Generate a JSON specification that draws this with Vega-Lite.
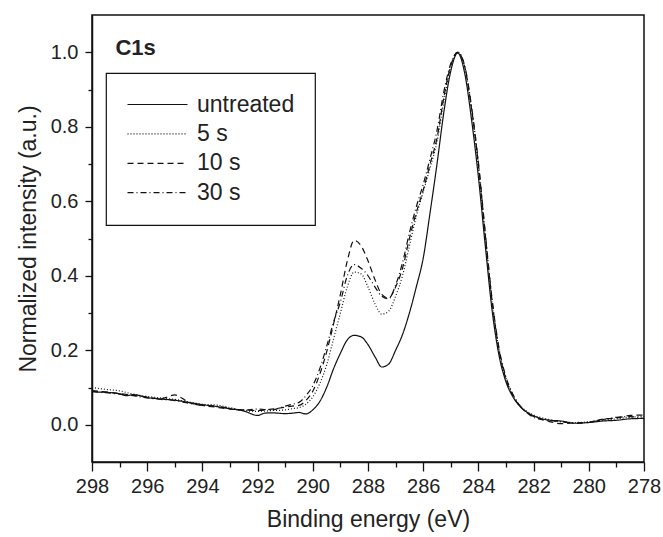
{
  "$schema": "https://vega.github.io/schema/vega-lite/v6.json",
  "width": 552,
  "height": 447,
  "autosize": {"type": "none"},
  "padding": {"left": 92, "top": 15, "right": 19, "bottom": 75},
  "config": {
    "font": "Liberation Sans",
    "view": {"stroke": "#111", "strokeWidth": 1.5},
    "axis": {"grid": false, "domainColor": "#111", "domainWidth": 1.5, "tickColor": "#111", "tickWidth": 1.3, "labelColor": "#222", "titleColor": "#222", "labelFontSize": 20, "titleFontSize": 23, "titleFontWeight": "normal", "labelFont": "Liberation Sans", "titleFont": "Liberation Sans"},
    "legend": {"labelFont": "Liberation Sans", "strokeWidth": 1.2}
  },
  "resolve": {"axis": {"x": "independent", "y": "independent"}},
  "datasets": {
    "spectra": [
      {"s":"untreated","e":298,"v":0.088},{"s":"untreated","e":297.5,"v":0.087},{"s":"untreated","e":297,"v":0.083},{"s":"untreated","e":296.75,"v":0.078},{"s":"untreated","e":296.5,"v":0.081},{"s":"untreated","e":296,"v":0.073},{"s":"untreated","e":295.5,"v":0.069},{"s":"untreated","e":295,"v":0.066},{"s":"untreated","e":294.5,"v":0.060},{"s":"untreated","e":294,"v":0.054},{"s":"untreated","e":293.5,"v":0.049},{"s":"untreated","e":293,"v":0.043},{"s":"untreated","e":292.5,"v":0.037},{"s":"untreated","e":292,"v":0.025},{"s":"untreated","e":291.75,"v":0.031},{"s":"untreated","e":291.5,"v":0.032},{"s":"untreated","e":291,"v":0.030},{"s":"untreated","e":290.75,"v":0.031},{"s":"untreated","e":290.5,"v":0.033},{"s":"untreated","e":290.25,"v":0.029},{"s":"untreated","e":290,"v":0.040},{"s":"untreated","e":289.75,"v":0.062},{"s":"untreated","e":289.5,"v":0.100},{"s":"untreated","e":289.25,"v":0.150},{"s":"untreated","e":289,"v":0.192},{"s":"untreated","e":288.75,"v":0.228},{"s":"untreated","e":288.5,"v":0.240},{"s":"untreated","e":288.25,"v":0.236},{"s":"untreated","e":288,"v":0.215},{"s":"untreated","e":287.75,"v":0.183},{"s":"untreated","e":287.5,"v":0.155},{"s":"untreated","e":287.25,"v":0.163},{"s":"untreated","e":287,"v":0.200},{"s":"untreated","e":286.75,"v":0.242},{"s":"untreated","e":286.5,"v":0.300},{"s":"untreated","e":286.25,"v":0.370},{"s":"untreated","e":286,"v":0.447},{"s":"untreated","e":285.75,"v":0.570},{"s":"untreated","e":285.5,"v":0.700},{"s":"untreated","e":285.25,"v":0.840},{"s":"untreated","e":285,"v":0.950},{"s":"untreated","e":284.75,"v":0.998},{"s":"untreated","e":284.5,"v":0.945},{"s":"untreated","e":284.25,"v":0.820},{"s":"untreated","e":284,"v":0.665},{"s":"untreated","e":283.75,"v":0.480},{"s":"untreated","e":283.5,"v":0.305},{"s":"untreated","e":283.25,"v":0.185},{"s":"untreated","e":283,"v":0.115},{"s":"untreated","e":282.75,"v":0.075},{"s":"untreated","e":282.5,"v":0.050},{"s":"untreated","e":282.25,"v":0.034},{"s":"untreated","e":282,"v":0.024},{"s":"untreated","e":281.5,"v":0.013},{"s":"untreated","e":281,"v":0.010},{"s":"untreated","e":280.5,"v":0.004},{"s":"untreated","e":280,"v":0.006},{"s":"untreated","e":279.5,"v":0.010},{"s":"untreated","e":279,"v":0.012},{"s":"untreated","e":278.5,"v":0.016},{"s":"untreated","e":278,"v":0.017},

      {"s":"5 s","e":298,"v":0.100},{"s":"5 s","e":297.5,"v":0.095},{"s":"5 s","e":297,"v":0.091},{"s":"5 s","e":296.5,"v":0.082},{"s":"5 s","e":296,"v":0.076},{"s":"5 s","e":295.5,"v":0.072},{"s":"5 s","e":295,"v":0.068},{"s":"5 s","e":294.5,"v":0.061},{"s":"5 s","e":294,"v":0.055},{"s":"5 s","e":293.5,"v":0.053},{"s":"5 s","e":293,"v":0.046},{"s":"5 s","e":292.5,"v":0.038},{"s":"5 s","e":292,"v":0.036},{"s":"5 s","e":291.5,"v":0.038},{"s":"5 s","e":291,"v":0.040},{"s":"5 s","e":290.75,"v":0.043},{"s":"5 s","e":290.5,"v":0.046},{"s":"5 s","e":290.25,"v":0.055},{"s":"5 s","e":290,"v":0.075},{"s":"5 s","e":289.75,"v":0.110},{"s":"5 s","e":289.5,"v":0.160},{"s":"5 s","e":289.25,"v":0.230},{"s":"5 s","e":289,"v":0.300},{"s":"5 s","e":288.75,"v":0.370},{"s":"5 s","e":288.5,"v":0.410},{"s":"5 s","e":288.25,"v":0.405},{"s":"5 s","e":288,"v":0.370},{"s":"5 s","e":287.75,"v":0.325},{"s":"5 s","e":287.5,"v":0.297},{"s":"5 s","e":287.25,"v":0.305},{"s":"5 s","e":287,"v":0.345},{"s":"5 s","e":286.75,"v":0.400},{"s":"5 s","e":286.5,"v":0.480},{"s":"5 s","e":286.25,"v":0.560},{"s":"5 s","e":286,"v":0.625},{"s":"5 s","e":285.75,"v":0.690},{"s":"5 s","e":285.5,"v":0.760},{"s":"5 s","e":285.25,"v":0.870},{"s":"5 s","e":285,"v":0.960},{"s":"5 s","e":284.75,"v":1.000},{"s":"5 s","e":284.5,"v":0.960},{"s":"5 s","e":284.25,"v":0.845},{"s":"5 s","e":284,"v":0.690},{"s":"5 s","e":283.75,"v":0.500},{"s":"5 s","e":283.5,"v":0.325},{"s":"5 s","e":283.25,"v":0.200},{"s":"5 s","e":283,"v":0.125},{"s":"5 s","e":282.75,"v":0.080},{"s":"5 s","e":282.5,"v":0.052},{"s":"5 s","e":282.25,"v":0.036},{"s":"5 s","e":282,"v":0.026},{"s":"5 s","e":281.5,"v":0.015},{"s":"5 s","e":281,"v":0.008},{"s":"5 s","e":280.5,"v":0.006},{"s":"5 s","e":280,"v":0.008},{"s":"5 s","e":279.5,"v":0.012},{"s":"5 s","e":279,"v":0.016},{"s":"5 s","e":278.5,"v":0.020},{"s":"5 s","e":278,"v":0.022},

      {"s":"10 s","e":298,"v":0.092},{"s":"10 s","e":297.5,"v":0.088},{"s":"10 s","e":297,"v":0.084},{"s":"10 s","e":296.5,"v":0.079},{"s":"10 s","e":296,"v":0.074},{"s":"10 s","e":295.5,"v":0.070},{"s":"10 s","e":295,"v":0.080},{"s":"10 s","e":294.75,"v":0.072},{"s":"10 s","e":294.5,"v":0.060},{"s":"10 s","e":294,"v":0.052},{"s":"10 s","e":293.5,"v":0.047},{"s":"10 s","e":293,"v":0.042},{"s":"10 s","e":292.5,"v":0.040},{"s":"10 s","e":292,"v":0.038},{"s":"10 s","e":291.5,"v":0.042},{"s":"10 s","e":291,"v":0.047},{"s":"10 s","e":290.75,"v":0.050},{"s":"10 s","e":290.5,"v":0.052},{"s":"10 s","e":290.25,"v":0.065},{"s":"10 s","e":290,"v":0.090},{"s":"10 s","e":289.75,"v":0.135},{"s":"10 s","e":289.5,"v":0.195},{"s":"10 s","e":289.25,"v":0.270},{"s":"10 s","e":289,"v":0.350},{"s":"10 s","e":288.75,"v":0.440},{"s":"10 s","e":288.5,"v":0.495},{"s":"10 s","e":288.25,"v":0.480},{"s":"10 s","e":288,"v":0.440},{"s":"10 s","e":287.75,"v":0.390},{"s":"10 s","e":287.5,"v":0.350},{"s":"10 s","e":287.25,"v":0.340},{"s":"10 s","e":287,"v":0.370},{"s":"10 s","e":286.75,"v":0.420},{"s":"10 s","e":286.5,"v":0.500},{"s":"10 s","e":286.25,"v":0.570},{"s":"10 s","e":286,"v":0.630},{"s":"10 s","e":285.75,"v":0.700},{"s":"10 s","e":285.5,"v":0.770},{"s":"10 s","e":285.25,"v":0.880},{"s":"10 s","e":285,"v":0.965},{"s":"10 s","e":284.75,"v":1.000},{"s":"10 s","e":284.5,"v":0.962},{"s":"10 s","e":284.25,"v":0.850},{"s":"10 s","e":284,"v":0.700},{"s":"10 s","e":283.75,"v":0.510},{"s":"10 s","e":283.5,"v":0.330},{"s":"10 s","e":283.25,"v":0.200},{"s":"10 s","e":283,"v":0.122},{"s":"10 s","e":282.75,"v":0.078},{"s":"10 s","e":282.5,"v":0.050},{"s":"10 s","e":282.25,"v":0.033},{"s":"10 s","e":282,"v":0.022},{"s":"10 s","e":281.5,"v":0.010},{"s":"10 s","e":281,"v":0.003},{"s":"10 s","e":280.5,"v":0.005},{"s":"10 s","e":280,"v":0.006},{"s":"10 s","e":279.5,"v":0.015},{"s":"10 s","e":279,"v":0.018},{"s":"10 s","e":278.5,"v":0.025},{"s":"10 s","e":278,"v":0.026},

      {"s":"30 s","e":298,"v":0.090},{"s":"30 s","e":297.5,"v":0.086},{"s":"30 s","e":297,"v":0.082},{"s":"30 s","e":296.5,"v":0.078},{"s":"30 s","e":296,"v":0.072},{"s":"30 s","e":295.5,"v":0.068},{"s":"30 s","e":295,"v":0.065},{"s":"30 s","e":294.5,"v":0.058},{"s":"30 s","e":294,"v":0.052},{"s":"30 s","e":293.5,"v":0.050},{"s":"30 s","e":293,"v":0.044},{"s":"30 s","e":292.5,"v":0.039},{"s":"30 s","e":292,"v":0.042},{"s":"30 s","e":291.5,"v":0.040},{"s":"30 s","e":291,"v":0.050},{"s":"30 s","e":290.75,"v":0.055},{"s":"30 s","e":290.5,"v":0.060},{"s":"30 s","e":290.25,"v":0.078},{"s":"30 s","e":290,"v":0.105},{"s":"30 s","e":289.75,"v":0.150},{"s":"30 s","e":289.5,"v":0.210},{"s":"30 s","e":289.25,"v":0.275},{"s":"30 s","e":289,"v":0.330},{"s":"30 s","e":288.75,"v":0.400},{"s":"30 s","e":288.5,"v":0.430},{"s":"30 s","e":288.25,"v":0.420},{"s":"30 s","e":288,"v":0.400},{"s":"30 s","e":287.75,"v":0.370},{"s":"30 s","e":287.5,"v":0.345},{"s":"30 s","e":287.25,"v":0.338},{"s":"30 s","e":287,"v":0.375},{"s":"30 s","e":286.75,"v":0.435},{"s":"30 s","e":286.5,"v":0.515},{"s":"30 s","e":286.25,"v":0.585},{"s":"30 s","e":286,"v":0.645},{"s":"30 s","e":285.75,"v":0.715},{"s":"30 s","e":285.5,"v":0.790},{"s":"30 s","e":285.25,"v":0.895},{"s":"30 s","e":285,"v":0.970},{"s":"30 s","e":284.75,"v":1.000},{"s":"30 s","e":284.5,"v":0.965},{"s":"30 s","e":284.25,"v":0.855},{"s":"30 s","e":284,"v":0.705},{"s":"30 s","e":283.75,"v":0.515},{"s":"30 s","e":283.5,"v":0.335},{"s":"30 s","e":283.25,"v":0.205},{"s":"30 s","e":283,"v":0.128},{"s":"30 s","e":282.75,"v":0.082},{"s":"30 s","e":282.5,"v":0.052},{"s":"30 s","e":282.25,"v":0.033},{"s":"30 s","e":282,"v":0.020},{"s":"30 s","e":281.5,"v":0.012},{"s":"30 s","e":281,"v":0.008},{"s":"30 s","e":280.5,"v":0.004},{"s":"30 s","e":280,"v":0.007},{"s":"30 s","e":279.5,"v":0.014},{"s":"30 s","e":279,"v":0.020},{"s":"30 s","e":278.5,"v":0.022},{"s":"30 s","e":278,"v":0.016}
    ],
    "note": [{"label": "C1s", "e": 297.15, "v": 0.993}]
  },
  "layer": [
    {
      "data": {"name": "spectra"},
      "mark": {"type": "line", "color": "#111", "strokeWidth": 1.2, "interpolate": "monotone", "clip": true},
      "encoding": {
        "x": {
          "field": "e", "type": "quantitative",
          "scale": {"domain": [278, 298], "reverse": true, "nice": false, "zero": false},
          "axis": {
            "orient": "bottom",
            "title": "Binding energy (eV)",
            "values": [278,280,282,284,286,288,290,292,294,296,298],
            "format": "d",
            "tickSize": 9,
            "labelPadding": 5,
            "titlePadding": 12,
            "labelFlush": false
          }
        },
        "y": {
          "field": "v", "type": "quantitative",
          "scale": {"domain": [-0.1, 1.1], "nice": false, "zero": false},
          "axis": {
            "orient": "left",
            "title": "Normalized intensity (a.u.)",
            "values": [0, 0.2, 0.4, 0.6, 0.8, 1.0],
            "format": ".1f",
            "tickSize": 7,
            "labelPadding": 7,
            "titlePadding": 10,
            "labelFlush": false
          }
        },
        "strokeDash": {
          "field": "s", "type": "nominal",
          "sort": ["untreated", "5 s", "10 s", "30 s"],
          "scale": {"domain": ["untreated", "5 s", "10 s", "30 s"], "range": [[1, 0], [1, 2], [6, 4], [6, 3, 1, 3]]},
          "legend": {
            "title": null,
            "orient": "none",
            "legendX": 14,
            "legendY": 58,
            "strokeColor": "#111",
            "padding": 20,
            "symbolType": "M-1,0H5",
            "symbolSize": 400,
            "symbolStrokeWidth": 1.2,
            "symbolStrokeColor": "#111",
            "labelFontSize": 23,
            "labelColor": "#222",
            "labelOffset": 48,
            "rowPadding": 5.4
          }
        }
      }
    },
    {
      "data": {"name": "note"},
      "mark": {"type": "text", "align": "left", "baseline": "alphabetic", "fontSize": 22, "fontWeight": "bold", "color": "#222", "font": "Liberation Sans"},
      "encoding": {
        "x": {
          "field": "e", "type": "quantitative",
          "axis": {"orient": "bottom", "title": null, "labels": false, "domain": false, "tickSize": 5, "values": [279,281,283,285,287,289,291,293,295,297]}
        },
        "y": {
          "field": "v", "type": "quantitative",
          "axis": {"orient": "left", "title": null, "labels": false, "domain": false, "tickSize": 4, "values": [0.1, 0.3, 0.5, 0.7, 0.9]}
        },
        "text": {"field": "label"}
      }
    }
  ]
}
